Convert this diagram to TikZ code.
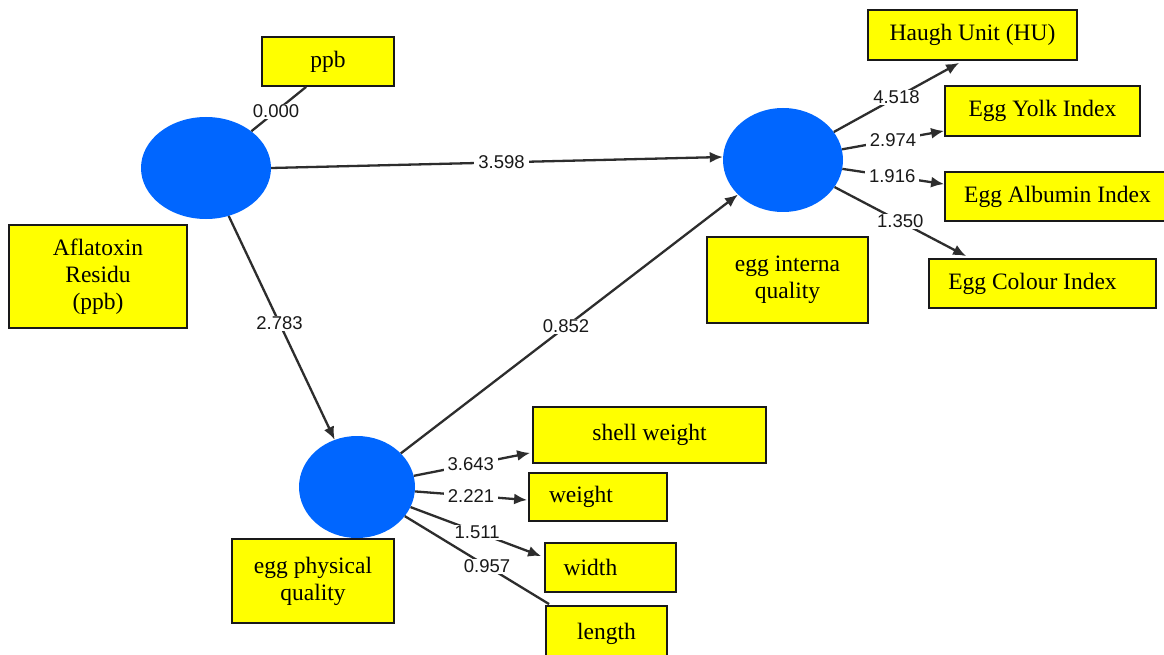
\documentclass[tikz,border=0pt]{standalone}
\usepackage{fontspec}
\setmainfont{Liberation Serif}
\newfontfamily\lblfont{Liberation Sans}
\usetikzlibrary{shapes.geometric,arrows.meta,calc}
\definecolor{lvblue}{RGB}{0,102,255}
\definecolor{ybox}{RGB}{255,255,0}
\definecolor{edgegray}{RGB}{45,45,45}
\tikzset{
  lvar/.style={ellipse, fill=lvblue, draw=none, inner sep=0pt},
  ibox/.style={rectangle, fill=ybox, draw=black!90, line width=1.8pt, inner sep=0pt,
    font=\fontsize{23.5}{27}\selectfont, align=center},
  conn/.style={draw=edgegray, line width=2.3pt},
  arr/.style={conn, -{Latex[length=13pt,width=11pt]}},
  wlab/.style={fill=white, inner xsep=4pt, inner ysep=1pt,
    font=\lblfont\fontsize{18.5}{18.5}\selectfont, text=black!90},
}
\begin{document}
\begin{tikzpicture}[x=1pt,y=-1pt]
\fill[white] (0,0) rectangle (1164,655);
\useasboundingbox (0,0) rectangle (1164,655);

% latent variables
\node[lvar, minimum width=130pt, minimum height=102pt] (A) at (206,168) {};
\node[lvar, minimum width=120pt, minimum height=104pt] (B) at (783,160) {};
\node[lvar, minimum width=116pt, minimum height=102pt] (C) at (357,487) {};

% boxes
\node[ibox, minimum width=132pt, minimum height=49pt] (ppb) at (328,61.5) {ppb};
\node[ibox, minimum width=178pt, minimum height=103pt] (afl) at (98,276.5) {Aflatoxin\\Residu\\(ppb)};
\node[ibox, minimum width=209pt, minimum height=50pt] (HU) at (972.5,35) {Haugh Unit (HU)};
\node[ibox, minimum width=195pt, minimum height=50pt] (yolk) at (1042.5,111) {Egg Yolk Index};
\node[ibox, minimum width=225pt, minimum height=49pt] (alb) at (1057.5,196.5) {Egg Albumin Index};
\node[ibox, minimum width=227pt, minimum height=49pt] (col) at (1042.5,283.5) {Egg Colour Index\hspace*{20pt}};
\node[ibox, minimum width=161pt, minimum height=86pt] (eiq) at (787.5,280) {egg interna\\quality};
\node[ibox, minimum width=233pt, minimum height=56pt] (sw) at (649.5,435) {shell weight};
\node[ibox, minimum width=138pt, minimum height=48pt] (wt) at (598,497) {weight\hspace*{34pt}};
\node[ibox, minimum width=131pt, minimum height=49pt] (wd) at (610.5,567.5) {width\hspace*{40pt}};
\node[ibox, minimum width=121pt, minimum height=56pt] (len) at (606.5,634) {length};
\node[ibox, minimum width=162pt, minimum height=84pt] (epq) at (313,581) {egg physical\\quality};

% structural paths
\draw[conn] (A) -- node[wlab,pos=0.45]{0.000} ([xshift=45pt]ppb.south west);
\draw[arr] (A.east) -- node[wlab,pos=0.51]{3.598} ([yshift=3pt]B.west);
\draw[arr] (A) -- node[wlab,pos=0.48]{2.783} (C);
\draw[arr] (C) -- node[wlab,pos=0.49]{0.852} (B);

% outer loadings of egg physical quality
\draw[arr] (C) -- node[wlab,pos=0.49]{3.643} ([xshift=-2pt,yshift=11pt]sw.south west);
\draw[arr] (C) -- node[wlab,pos=0.5]{2.221} ([xshift=-1pt,yshift=-3pt]wt.west);
\draw[arr] (C) -- node[wlab,pos=0.51]{1.511} ([xshift=-3pt,yshift=-14pt]wd.north west);
\draw[conn] (C) -- node[wlab,pos=0.57]{0.957} ([xshift=4pt,yshift=1pt]len.north west);

% outer loadings of egg internal quality
\draw[arr] (B) -- node[wlab,pos=0.5]{4.518} ([xshift=92pt,yshift=-2pt]HU.south west);
\draw[arr] (B) -- node[wlab,pos=0.5]{2.974} ([yshift=6pt]yolk.south west);
\draw[arr] (B) -- node[wlab,pos=0.49]{1.916} ([yshift=-13pt]alb.north west);
\draw[arr] (B) -- node[wlab,pos=0.5]{1.350} ([xshift=38pt,yshift=2pt]col.north west);
\end{tikzpicture}
\end{document}
